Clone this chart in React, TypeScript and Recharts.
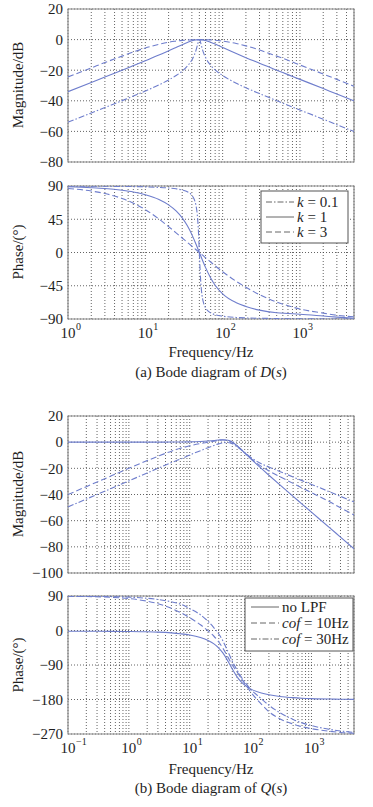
import React from 'react';
import { LineChart, Line, XAxis, YAxis, CartesianGrid, ReferenceArea } from 'recharts';

const SERIF = '"Liberation Serif", "Times New Roman", serif';
const BLUE = '#6e7dcc';
const GRID = '#3c3c3c';
const FRAME = '#8a8a8a';
const INK = '#1e1e1e';

// ---------- (a) Bode diagram of D(s) ----------
const freqA = [1, 2, 3, 5, 7, 10, 15, 20, 25, 30, 35, 40, 45, 50, 55, 60, 70, 80, 100, 150, 200, 300, 500, 700, 1000, 2000, 3000, 5000];
// k = 0.1 is sharp around 50 Hz, so it gets its own finer set of points
const freqA01 = [1, 2, 3, 5, 7, 10, 15, 20, 25, 30, 35, 40, 43, 45, 47, 48, 49, 50, 51, 52, 53, 55, 57, 60, 65, 70, 80, 100, 150, 200, 300, 500, 700, 1000, 2000, 3000, 5000];

const magK01 = [-54, -47.9, -44.4, -39.9, -36.9, -33.6, -29.6, -26.4, -23.5, -20.6, -17.3, -13.3, -10.1, -7.4, -4, -2.2, -0.7, 0, -0.6, -2.1, -3.7, -6.7, -9, -11.6, -14.7, -16.8, -19.8, -23.5, -28.5, -31.5, -35.3, -39.9, -42.9, -46, -52, -55.6, -60];
const magK1 = [-34, -28, -24.4, -20, -17, -13.8, -10.1, -7.3, -5.1, -3.3, -1.9, -0.8, -0.2, 0, -0.2, -0.6, -1.7, -2.9, -5.1, -9.1, -11.8, -15.4, -20, -22.9, -26, -32, -35.6, -40];
const magK3 = [-24.4, -18.5, -15, -10.8, -8.1, -5.5, -3.1, -1.7, -1, -0.5, -0.3, -0.1, 0, 0, 0, -0.1, -0.2, -0.4, -1, -2.5, -4.1, -6.8, -10.8, -13.5, -16.6, -22.5, -26, -30.5];

const phaseK01 = [89.9, 89.8, 89.7, 89.4, 89.2, 88.8, 88.1, 87.3, 86.2, 84.6, 82.2, 77.5, 71.7, 64.7, 51.1, 39.2, 22, 0, -21.6, -38.1, -49.4, -62.4, -69.2, -74.7, -79.3, -81.7, -84.1, -86.2, -87.9, -88.5, -89, -89.4, -89.6, -89.7, -89.9, -89.9, -89.9];
const phaseK1 = [88.9, 87.7, 86.6, 84.2, 81.9, 78.2, 71.8, 64.5, 56.3, 46.9, 36.1, 24.2, 11.9, 0, -10.8, -20.1, -34.4, -44.3, -56, -68, -73, -78, -81.5, -82.5, -83.5, -86, -87.5, -89];
const phaseK3 = [86.6, 83.2, 79.8, 73.1, 66.8, 58, 45.3, 35, 26.6, 19.6, 13.7, 8.5, 4, 0, -3.6, -7, -12.9, -18, -26, -39, -47, -57, -67, -72, -76.5, -82, -85, -87];

const gridFreqA = [1, 2, 3, 4, 5, 6, 7, 8, 9, 10, 20, 30, 40, 50, 60, 70, 80, 90, 100, 200, 300, 400, 500, 600, 700, 800, 900, 1000, 2000, 3000, 4000, 5000];
const magTicksA = [-80, -60, -40, -20, 0, 20];
const phaseTicksA = [-90, -45, 0, 45, 90];

// ---------- (b) Bode diagram of Q(s) ----------
const freqB = [0.1, 0.2, 0.5, 1, 2, 3, 5, 7, 10, 15, 20, 25, 30, 35, 40, 45, 50, 60, 70, 80, 100, 150, 200, 300, 500, 700, 1000, 2000, 3000, 5000];

const magNoLpf = [0, 0, 0, 0, 0, 0, 0.1, 0.1, 0.2, 0.5, 0.9, 1.3, 1.7, 1.9, 1.7, 1.1, 0, -2.7, -5.6, -8.2, -12.5, -20.1, -25.3, -32.5, -41.4, -47.3, -53.5, -65.5, -72.6, -81.5];
const magCof10 = [-40, -34, -26, -20, -14.1, -10.8, -6.9, -4.7, -2.8, -1.1, -0.1, 0.7, 1.3, 1.6, 1.5, 0.9, -0.1, -2.9, -5.7, -8.2, -12.3, -18.5, -22, -26.3, -31.5, -35, -38.6, -45.6, -50.2, -55.6];
const magCof30 = [-49.5, -43.5, -35.6, -29.6, -23.5, -20, -15.6, -13, -9.8, -6.5, -4.2, -2.5, -1.3, -0.5, -0.2, -0.5, -1.3, -3.5, -5.8, -8, -11.5, -16.5, -19, -22.4, -26.6, -29.4, -32.3, -38, -41.4, -45.6];

const phaseNoLpf = [-2, -2, -2.2, -2.6, -3.4, -4.3, -6.3, -8.5, -11.8, -18.4, -26, -35, -45.8, -58.5, -72.7, -87.2, -100.5, -120.9, -133.9, -142.3, -152.3, -163.1, -167.7, -172, -175.2, -176.6, -177.6, -178.8, -179.2, -179.6];
const phaseCof10 = [89.3, 88.6, 86.6, 83.2, 76.5, 69.9, 57.8, 47, 33.4, 15, -1, -15, -30, -46, -62, -77, -90, -108, -125, -138, -160, -192, -212, -230, -244, -251, -256, -263, -266, -268];
const phaseCof30 = [89.7, 89.4, 88.5, 87, 84, 80.9, 74.8, 68.9, 57, 41, 24, 7, -9, -27, -46, -64, -80, -103, -121, -134, -153, -178, -195, -214, -232, -241, -248, -258, -262, -266];

const gridFreqB = [0.1, 0.2, 0.3, 0.4, 0.5, 0.6, 0.7, 0.8, 0.9, 1, 2, 3, 4, 5, 6, 7, 8, 9, 10, 20, 30, 40, 50, 60, 70, 80, 90, 100, 200, 300, 400, 500, 600, 700, 800, 900, 1000, 2000, 3000, 4000, 5000];
const magTicksB = [-100, -80, -60, -40, -20, 0, 20];
const phaseTicksB = [-270, -180, -90, 0, 90];

type Pt = { f: number; v: number };
const zip = (f: number[], v: number[]): Pt[] => f.map((x, i) => ({ f: x, v: v[i] }));

const minus = (v: number) => (v < 0 ? `\u2212${-v}` : `${v}`);

function FreqTick(props: any) {
  const { x, y, payload, show } = props;
  const lg = Math.log10(payload.value);
  const e = Math.round(lg);
  if (!show || Math.abs(lg - e) > 1e-6) return <g />;
  return (
    <g>
      <text x={x} y={y + 19} textAnchor="middle" fontSize={15} fontFamily={SERIF} fill={INK}>10</text>
      <text x={x + 8} y={y + 11} textAnchor="start" fontSize={10} fontFamily={SERIF} fill={INK}>{minus(e)}</text>
    </g>
  );
}

interface SeriesDef {
  name: string;
  data: Pt[];
  dash?: string;
}

interface PanelProps {
  top: number;
  height: number;
  mTop: number;
  mBottom: number; // distance from the plot bottom to the chart bottom
  xDomain: [number, number];
  xTicks: number[];
  yDomain: [number, number];
  yTicks: number[];
  series: SeriesDef[];
  showFreq?: boolean;
}

function BodePanel({ top, height, mTop, mBottom, xDomain, xTicks, yDomain, yTicks, series, showFreq = false }: PanelProps) {
  const axisH = showFreq ? 30 : 0;
  return (
    <div style={{ position: 'absolute', left: 0, top }}>
      <LineChart width={373} height={height} margin={{ top: mTop, right: 19, bottom: mBottom - axisH, left: 0 }}>
        <CartesianGrid stroke={GRID} strokeDasharray="1 2" strokeWidth={0.8} />
        <XAxis
          type="number"
          dataKey="f"
          scale="log"
          domain={xDomain}
          ticks={xTicks}
          interval={0}
          allowDataOverflow
          height={axisH}
          axisLine={false}
          tickLine={false}
          tickSize={0}
          tickMargin={0}
          tick={(p: any) => <FreqTick {...p} show={showFreq} />}
        />
        <YAxis
          type="number"
          domain={yDomain}
          ticks={yTicks}
          interval={0}
          allowDataOverflow
          width={68}
          axisLine={false}
          tickLine={false}
          tickSize={0}
          tickMargin={5}
          tickFormatter={minus}
          tick={{ fontSize: 15, fontFamily: SERIF, fill: INK }}
        />
        <ReferenceArea x1={xDomain[0]} x2={xDomain[1]} y1={yDomain[0]} y2={yDomain[1]} fill="none" stroke={FRAME} strokeWidth={1.2} ifOverflow="visible" />
        {series.map((s) => (
          <Line
            key={s.name}
            name={s.name}
            data={s.data}
            dataKey="v"
            type="monotone"
            stroke={BLUE}
            strokeWidth={1.1}
            strokeDasharray={s.dash}
            dot={false}
            isAnimationActive={false}
          />
        ))}
      </LineChart>
    </div>
  );
}

const DASH = '6 3';
const DASHDOT = '6 2 1.5 2';

const seriesMagA: SeriesDef[] = [
  { name: 'k=0.1', data: zip(freqA01, magK01), dash: DASHDOT },
  { name: 'k=1', data: zip(freqA, magK1) },
  { name: 'k=3', data: zip(freqA, magK3), dash: DASH },
];
const seriesPhaseA: SeriesDef[] = [
  { name: 'k=0.1', data: zip(freqA01, phaseK01), dash: DASHDOT },
  { name: 'k=1', data: zip(freqA, phaseK1) },
  { name: 'k=3', data: zip(freqA, phaseK3), dash: DASH },
];
const seriesMagB: SeriesDef[] = [
  { name: 'no LPF', data: zip(freqB, magNoLpf) },
  { name: 'cof=10Hz', data: zip(freqB, magCof10), dash: DASH },
  { name: 'cof=30Hz', data: zip(freqB, magCof30), dash: DASHDOT },
];
const seriesPhaseB: SeriesDef[] = [
  { name: 'no LPF', data: zip(freqB, phaseNoLpf) },
  { name: 'cof=10Hz', data: zip(freqB, phaseCof10), dash: DASH },
  { name: 'cof=30Hz', data: zip(freqB, phaseCof30), dash: DASHDOT },
];

function LegendRow({ y, x0, dash, children }: { y: number; x0: number; dash?: string; children: React.ReactNode }) {
  return (
    <g>
      <line x1={x0} x2={x0 + 28} y1={y} y2={y} stroke="#666" strokeWidth={1} strokeDasharray={dash} />
      <text x={x0 + 31} y={y + 5} fontSize={15} fontFamily={SERIF} fill={INK}>{children}</text>
    </g>
  );
}

function Overlay() {
  const txt = { fontFamily: SERIF, fill: INK, fontSize: 15 } as const;
  return (
    <svg width={373} height={807} style={{ position: 'absolute', left: 0, top: 0, pointerEvents: 'none' }}>
      <text {...txt} transform="translate(23,85) rotate(-90)" textAnchor="middle">Magnitude/dB</text>
      <text {...txt} transform="translate(23,252) rotate(-90)" textAnchor="middle">Phase/(°)</text>
      <text {...txt} x={211} y={357} textAnchor="middle">Frequency/Hz</text>
      <text {...txt} x={211} y={377} textAnchor="middle">
        (a) Bode diagram of <tspan fontStyle="italic">D</tspan>(<tspan fontStyle="italic">s</tspan>)
      </text>

      <text {...txt} transform="translate(23,494) rotate(-90)" textAnchor="middle">Magnitude/dB</text>
      <text {...txt} transform="translate(23,665) rotate(-90)" textAnchor="middle">Phase/(°)</text>
      <text {...txt} x={211} y={774} textAnchor="middle">Frequency/Hz</text>
      <text {...txt} x={211} y={793} textAnchor="middle">
        (b) Bode diagram of <tspan fontStyle="italic">Q</tspan>(<tspan fontStyle="italic">s</tspan>)
      </text>

      <rect x={261} y={191} width={87} height={52} fill="#fff" stroke="#555" strokeWidth={1} />
      <LegendRow y={202} x0={266} dash={DASHDOT}><tspan fontStyle="italic">k</tspan> = 0.1</LegendRow>
      <LegendRow y={217} x0={266}><tspan fontStyle="italic">k</tspan> = 1</LegendRow>
      <LegendRow y={232} x0={266} dash={DASH}><tspan fontStyle="italic">k</tspan> = 3</LegendRow>

      <rect x={245} y={598} width={108} height={53} fill="#fff" stroke="#555" strokeWidth={1} />
      <LegendRow y={607} x0={251}>no LPF</LegendRow>
      <LegendRow y={623} x0={251} dash={DASH}><tspan fontStyle="italic">cof</tspan> = 10Hz</LegendRow>
      <LegendRow y={639} x0={251} dash={DASHDOT}><tspan fontStyle="italic">cof</tspan> = 30Hz</LegendRow>
    </svg>
  );
}

export default function App() {
  return (
    <div style={{ position: 'relative', width: 373, height: 807, background: '#fff', overflow: 'hidden' }}>
      <style>{'body{margin:0}'}</style>
      <BodePanel top={0} height={175} mTop={9} mBottom={13} xDomain={[1, 5000]} xTicks={gridFreqA} yDomain={[-80, 20]} yTicks={magTicksA} series={seriesMagA} />
      <BodePanel top={170} height={215} mTop={16} mBottom={66} xDomain={[1, 5000]} xTicks={gridFreqA} yDomain={[-90, 90]} yTicks={phaseTicksA} series={seriesPhaseA} showFreq />
      <BodePanel top={390} height={195} mTop={26} mBottom={12} xDomain={[0.1, 5000]} xTicks={gridFreqB} yDomain={[-100, 20]} yTicks={magTicksB} series={seriesMagB} />
      <BodePanel top={578} height={190} mTop={18} mBottom={34} xDomain={[0.1, 5000]} xTicks={gridFreqB} yDomain={[-270, 90]} yTicks={phaseTicksB} series={seriesPhaseB} showFreq />
      <Overlay />
    </div>
  );
}
